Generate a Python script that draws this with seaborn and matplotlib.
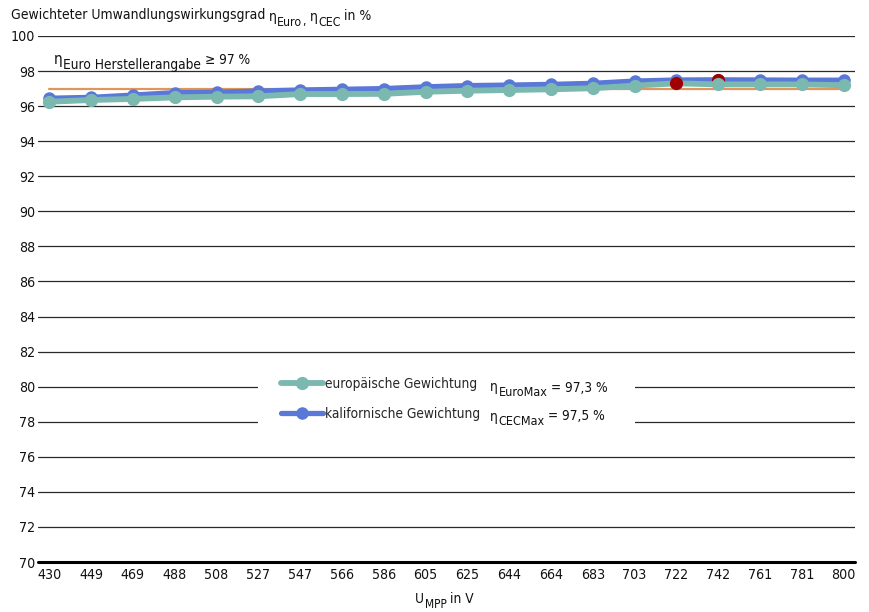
import matplotlib
matplotlib.use("Agg")
import matplotlib.pyplot as plt
import seaborn as sns
import pandas as pd
from matplotlib.patches import Rectangle

# ---- data ----
u_mpp = ["430", "449", "469", "488", "508", "527", "547", "566", "586", "605",
         "625", "644", "664", "683", "703", "722", "742", "761", "781", "800"]
eta_euro = [96.25, 96.35, 96.41, 96.50, 96.54, 96.56, 96.69, 96.69, 96.70, 96.82,
            96.88, 96.92, 96.96, 97.02, 97.17, 97.30, 97.24, 97.24, 97.24, 97.19]
eta_cec = [96.45, 96.50, 96.63, 96.77, 96.79, 96.86, 96.92, 96.96, 97.00, 97.10,
           97.17, 97.20, 97.24, 97.30, 97.43, 97.49, 97.50, 97.49, 97.48, 97.48]
eta_spec = 97.0
euro_max_idx, euro_max = 15, 97.3
cec_max_idx, cec_max = 16, 97.5
y_ticks = list(range(70, 101, 2))
series_names = ["europäische Gewichtung", "kalifornische Gewichtung"]
max_subs = ["EuroMax", "CECMax"]
max_vals = ["= 97,3 %", "= 97,5 %"]

sns.set_style("white")
plt.rcParams["font.family"] = ["DejaVu Sans"]
plt.rcParams["font.stretch"] = "condensed"

teal = "#7ab8b0"
blue = "#5a78d8"
orange = "#e0965a"
red = "#a00000"
txt = "#111111"
fs = 9.8

df = pd.DataFrame({
    "idx": list(range(len(u_mpp))) * 2,
    "eta": eta_euro + eta_cec,
    "series": ["euro"] * len(u_mpp) + ["cec"] * len(u_mpp),
})

W, H = 869, 612
fig = plt.figure(figsize=(8.69, 6.12), dpi=100)
ax = fig.add_axes([38 / W, 1 - 562 / H, 817 / W, 526 / H])
renderer = fig.canvas.get_renderer()


def rich(x, y, parts):
    """Place text pieces side by side; parts = (text, dy_px, size, gap_px)."""
    for s, dy, size, gap in parts:
        t = fig.text(x / W, 1 - (y + dy) / H, s, fontsize=size, color=txt, va="baseline")
        x += t.get_window_extent(renderer).width + gap


# spec line
ax.plot([0, len(u_mpp) - 1], [eta_spec, eta_spec], color=orange, lw=1.6, zorder=2)

sns.lineplot(data=df[df.series == "cec"], x="idx", y="eta", ax=ax, color=blue,
             lw=3.8, marker="o", markersize=9, markeredgewidth=0, zorder=3,
             label=series_names[1])
ax.plot([cec_max_idx], [cec_max], "o", color=red, markersize=9.5, mew=0, zorder=4)
sns.lineplot(data=df[df.series == "euro"], x="idx", y="eta", ax=ax, color=teal,
             lw=4.2, marker="o", markersize=9.5, markeredgewidth=0, zorder=5,
             label=series_names[0])
ax.plot([euro_max_idx], [euro_max], "o", color=red, markersize=9.5, mew=0, zorder=6)

n = len(u_mpp)
ax.set_xlim(-0.27, n - 1 + 0.27)
ax.set_ylim(70, 100)
ax.set_yticks(y_ticks)
ax.set_yticklabels([str(t) for t in y_ticks])
ax.set_xticks(range(n))
ax.set_xticklabels(u_mpp)
for t in y_ticks:
    if t == 70:
        continue
    ax.axhline(t, color="#2a2a2a", lw=0.9, zorder=0.5)
ax.axhline(70, color="black", lw=2.2, zorder=1, clip_on=False)
ax.tick_params(axis="both", length=0, labelsize=10.2, colors=txt)
ax.tick_params(axis="y", pad=2)
ax.tick_params(axis="x", pad=4)
for s in ax.spines.values():
    s.set_visible(False)
ax.set_xlabel("")
ax.set_ylabel("")

# white legend area over grid lines
ax.add_patch(Rectangle((258 / W, 1 - 436 / H), 377 / W, 66 / H, transform=fig.transFigure,
                       facecolor="white", edgecolor="none", zorder=0.8))

h, l = ax.get_legend_handles_labels()
order = [1, 0]
leg = ax.legend([h[i] for i in order], [l[i] for i in order],
                loc="upper left", bbox_to_anchor=(281 / W, 1 - 377 / H),
                bbox_transform=fig.transFigure, frameon=False,
                fontsize=fs, handlelength=3.1, handletextpad=0.12,
                labelspacing=1.15, borderpad=0, borderaxespad=0)
leg.set_zorder(10)
for sub, val, yb in zip(max_subs, max_vals, [391.5, 420.5]):
    rich(490, yb, [("η", 0, fs, 0.5), (sub, 4.5, 9, 3.5), (val, 0, fs, 0)])

# title
rich(11, 19.5, [("Gewichteter Umwandlungswirkungsgrad", 0, 10, 3.5),
                ("η", 1.5, 10, 0.5), ("Euro", 6, 8.8, 0), (",", 6, 8.8, 4),
                ("η", 1.5, 10, 0.5), ("CEC", 6, 8.8, 3.5), ("in %", 0, 10, 0)])

# manufacturer spec annotation
rich(54, 64, [("η", 0, 11, 0.5), ("Euro Herstellerangabe", 4.5, fs, 3.5), ("≥ 97 %", 0, fs, 0)])

# x axis title
rich(415, 603, [("U", 0, fs, 0.5), ("MPP", 5, 8.6, 3.5), ("in V", 0, fs, 0)])

fig.savefig("out.png", dpi=100)
